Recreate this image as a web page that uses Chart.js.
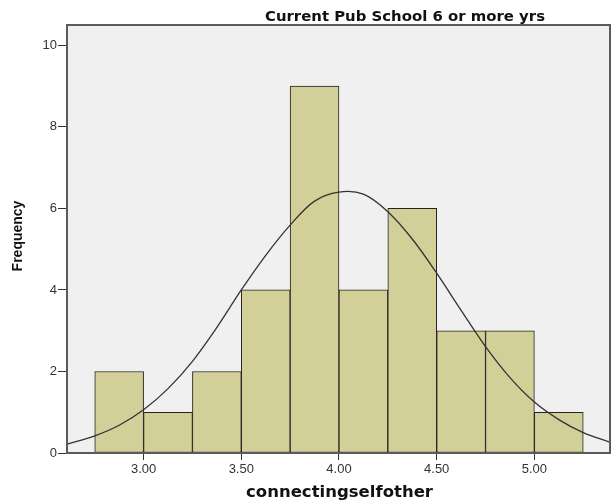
<!DOCTYPE html>
<html>
<head>
<meta charset="utf-8">
<script src="https://cdn.jsdelivr.net/npm/chart.js@4"></script>
<style>
html,body{margin:0;padding:0;background:#fff;}
#wrap{width:612px;height:504px;position:relative;}
</style>
</head>
<body>
<div id="wrap"><canvas id="c" width="612" height="504"></canvas></div>
<script>
// Histogram bins (centres) and frequencies
const binCenters = [2.875, 3.125, 3.375, 3.625, 3.875, 4.125, 4.375, 4.625, 4.875, 5.125];
const frequencies = [2, 1, 2, 4, 9, 4, 6, 3, 3, 1];
// Normal curve
const curveX = [2.61, 2.75, 2.875, 3.0, 3.125, 3.25, 3.375, 3.5, 3.625, 3.75, 3.875, 4.0, 4.125, 4.25, 4.375, 4.5, 4.625, 4.75, 4.875, 5.0, 5.125, 5.25, 5.39];
const curveY = [0.22, 0.42, 0.68, 1.06, 1.58, 2.25, 3.08, 4.0, 4.85, 5.59, 6.18, 6.40, 6.35, 5.92, 5.25, 4.41, 3.5, 2.61, 1.85, 1.25, 0.82, 0.5, 0.26];
const xTicks = [3.0, 3.5, 4.0, 4.5, 5.0];
const yTicks = [0, 2, 4, 6, 8, 10];
const chartTitle = 'Current Pub School 6 or more yrs';
const xTitle = 'connectingselfother';
const yTitle = 'Frequency';

const FONT = '"Liberation Sans", Arial, sans-serif';
const WIDE = '"DejaVu Sans", Verdana, sans-serif';

function fittedText(ctx, text, cx, y, size, family, width) {
  ctx.font = 'bold ' + size + 'px ' + family;
  const w = ctx.measureText(text).width;
  ctx.save();
  ctx.translate(cx, y);
  ctx.scale(width / w, 1);
  ctx.textAlign = 'center';
  ctx.fillText(text, 0, 0);
  ctx.restore();
}

const framePlugin = {
  id: 'frame',
  beforeDatasetsDraw(chart) {
    const {ctx, chartArea: a} = chart;
    ctx.save();
    ctx.fillStyle = '#f0f0f0';
    ctx.fillRect(a.left, a.top, a.right - a.left, a.bottom - a.top);
    ctx.restore();
  },
  afterDraw(chart) {
    const {ctx, chartArea: a} = chart;
    ctx.save();
    ctx.strokeStyle = '#5a5a5a';
    ctx.lineWidth = 2;
    ctx.strokeRect(a.left, a.top, a.right - a.left, a.bottom - a.top);
    ctx.fillStyle = '#111';
    ctx.textBaseline = 'alphabetic';
    fittedText(ctx, chartTitle, 405, 21, 14, WIDE, 280);
    fittedText(ctx, xTitle, 339.5, 497, 15, WIDE, 187);
    ctx.translate(22, 236);
    ctx.rotate(-Math.PI / 2);
    ctx.textAlign = 'center';
    ctx.font = 'bold 14px ' + FONT;
    ctx.fillText(yTitle, 0, 0);
    ctx.restore();
  }
};

new Chart(document.getElementById('c'), {
  data: {
    datasets: [
      {
        type: 'line',
        data: curveX.map((x, i) => ({x, y: curveY[i]})),
        borderColor: '#333',
        borderWidth: 1.3,
        pointRadius: 0,
        fill: false,
        tension: 0.35,
        order: 0
      },
      {
        type: 'bar',
        data: binCenters.map((x, i) => ({x, y: frequencies[i]})),
        backgroundColor: '#d3cf98',
        borderColor: '#222',
        borderWidth: 1,
        borderSkipped: false,
        barPercentage: 1.0,
        categoryPercentage: 1.0,
        order: 1
      }
    ]
  },
  options: {
    responsive: false,
    animation: false,
    devicePixelRatio: 1,
    layout: {padding: {left: 0, right: 2, top: 25, bottom: 0}},
    plugins: {legend: {display: false}, tooltip: {enabled: false}, title: {display: false}},
    scales: {
      x: {
        type: 'linear',
        offset: false,
        min: 2.608,
        max: 5.387,
        afterBuildTicks(s) { s.ticks = xTicks.map(v => ({value: v})); },
        afterFit(s) { s.height = 51; },
        grid: {offset: false, drawOnChartArea: false, drawTicks: true, tickLength: 7, color: '#333', lineWidth: 1},
        border: {display: false},
        ticks: {
          color: '#333',
          font: {family: FONT, size: 13},
          padding: 2,
          maxRotation: 0,
          callback: v => Number(v).toFixed(2)
        }
      },
      y: {
        type: 'linear',
        min: 0,
        max: 10.5,
        afterBuildTicks(s) { s.ticks = yTicks.map(v => ({value: v})); },
        afterFit(s) { s.width = 67; },
        grid: {drawOnChartArea: false, drawTicks: true, tickLength: 9, color: '#333', lineWidth: 1},
        border: {display: false},
        ticks: {
          color: '#333',
          font: {family: FONT, size: 13},
          padding: 1
        }
      }
    }
  },
  plugins: [framePlugin]
});
</script>
</body>
</html>
